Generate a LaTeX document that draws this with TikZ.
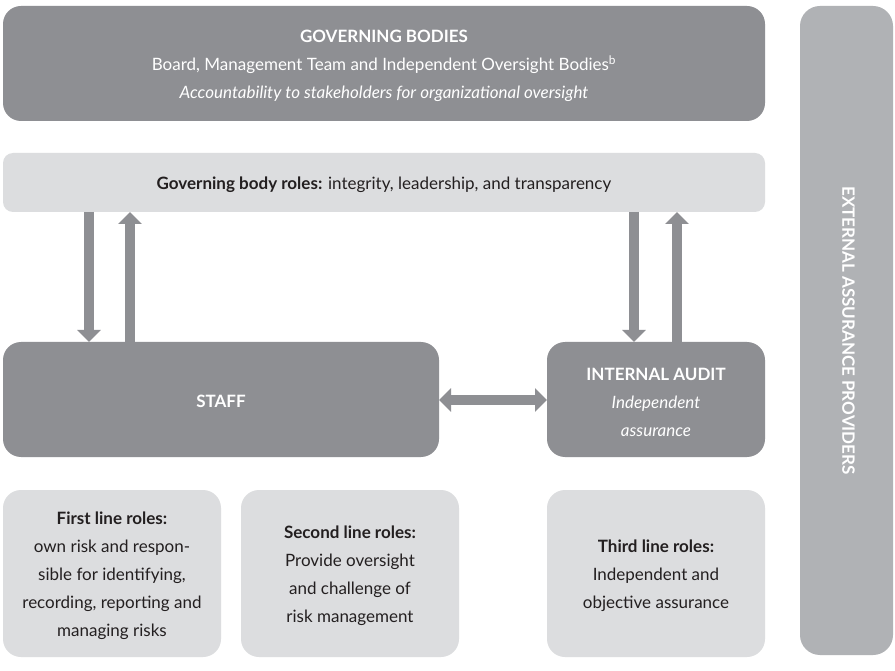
\documentclass[tikz,border=0pt]{standalone}
\usepackage{fontspec}
\setmainfont{Lato}
\usetikzlibrary{arrows.meta}
\definecolor{darkg}{HTML}{8E8F93}
\definecolor{lightg}{HTML}{DCDDDF}
\definecolor{extg}{HTML}{B0B2B5}
\definecolor{txt}{HTML}{231F20}
\begin{document}
\begin{tikzpicture}[x=1pt,y=-1pt,
  box/.style={rounded corners=18pt, inner sep=0pt, outer sep=0pt},
  darkbox/.style={box, fill=darkg},
  lightbox/.style={box, fill=lightg},
  lbl/.style={inner sep=0pt, align=center, font=\fontsize{17}{28}\selectfont},
  wlbl/.style={lbl, text=white},
  blbl/.style={lbl, text=txt},
  arr/.style={draw=darkg, line width=10pt, -{Triangle[width=23pt,length=12pt]}},
  darr/.style={draw=darkg, line width=10pt, {Triangle[width=23pt,length=12pt]}-{Triangle[width=23pt,length=12pt]}}
]
\useasboundingbox (0,0) rectangle (895,671);
\fill[white] (0,0) rectangle (895,671);

\node[darkbox, minimum width=762pt, minimum height=115pt] (gov) at (384,63.5) {};
\node[wlbl] (govtext) at ([yshift=-2.5pt]gov.center)
  {\textbf{GOVERNING BODIES}\\
   Board, Management Team and Independent Oversight Bodies\textsuperscript{b}\\
   \textit{Accountability to stakeholders for organizational oversight}};

\node[lightbox, rounded corners=10pt, minimum width=762pt, minimum height=59pt] (roles) at (384,182.5) {};
\node[blbl] (rolestext) at ([yshift=-2pt]roles.center)
  {\textbf{Governing body roles:} integrity, leadership, and transparency};

\node[darkbox, minimum width=436pt, minimum height=115pt] (staff) at (221,399.5) {};
\node[wlbl] (stafftext) at ([yshift=-2pt]staff.center) {\textbf{STAFF}};

\node[darkbox, minimum width=218pt, minimum height=115pt] (ia) at (656,399.5) {};
\node[wlbl] (iatext) at ([yshift=-2.5pt]ia.center)
  {\textbf{INTERNAL AUDIT}\\ \textit{Independent}\\ \textit{assurance}};

\node[lightbox, minimum width=218pt, minimum height=167pt] (first) at (112,573.5) {};
\node[blbl] (firsttext) at ([yshift=-2.5pt]first.center)
  {\textbf{First line roles:}\\ own risk and respon-\\ sible for identifying,\\ recording, reporting and\\ managing risks};

\node[lightbox, minimum width=218pt, minimum height=167pt] (second) at (350,573.5) {};
\node[blbl] (secondtext) at ([yshift=-2.5pt]second.center)
  {\textbf{Second line roles:}\\ Provide oversight\\ and challenge of\\ risk management};

\node[lightbox, minimum width=218pt, minimum height=167pt] (third) at (656,573.5) {};
\node[blbl] (thirdtext) at ([yshift=-2.5pt]third.center)
  {\textbf{Third line roles:}\\ Independent and\\ objective assurance};

\node[box, fill=extg, rounded corners=20pt, minimum width=93pt, minimum height=649pt] (ext) at (846.5,330.5) {};
\node[text=white, font=\fontsize{17}{20}\selectfont\bfseries, rotate=-90, inner sep=0pt] (extlabel) at ([xshift=2pt]ext.center) {EXTERNAL ASSURANCE PROVIDERS};

\draw[arr] (roles.south -| 89,0) -- (staff.north -| 89,0);
\draw[arr] (staff.north -| 130,0) -- (roles.south -| 130,0);
\draw[arr] (roles.south -| 634,0) -- (ia.north -| 634,0);
\draw[arr] (ia.north -| 677,0) -- (roles.south -| 677,0);
\draw[darr] (staff.east |- 0,400) -- (ia.west |- 0,400);
\end{tikzpicture}
\end{document}
